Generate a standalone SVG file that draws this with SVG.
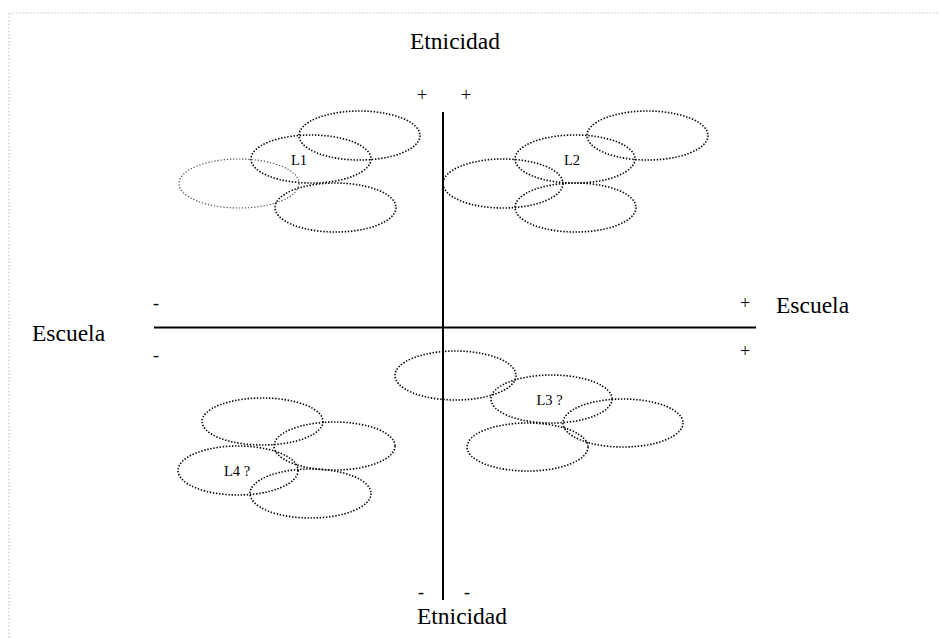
<svg xmlns="http://www.w3.org/2000/svg" width="939" height="638" viewBox="0 0 939 638">
<style>
.t{font-family:"Liberation Serif","Times New Roman",serif;fill:#000}
.big{font-size:23.5px}
.sm{font-size:14.5px}
.sg{font-size:18px}
.e{fill:none;stroke:#000;stroke-width:1.6;stroke-dasharray:1.4 1.7}
.eg{fill:none;stroke:#555;stroke-width:1.2;stroke-dasharray:1.3 1.8}
.ax{stroke:#000;stroke-width:2;fill:none}
</style>
<rect width="939" height="638" fill="#fff"/>
<path d="M9 13 H939 M9 13 V638" fill="none" stroke="#c8c8c8" stroke-width="1.2" stroke-dasharray="1.5 2"/>
<g id="axes">
<line class="ax" x1="443" y1="112" x2="443" y2="600"/>
<line class="ax" x1="154" y1="327.5" x2="756" y2="327.5"/>
</g>
<g id="labels">
<text class="t big" x="455" y="49" text-anchor="middle">Etnicidad</text>
<text class="t big" x="462" y="624" text-anchor="middle">Etnicidad</text>
<text class="t big" x="32" y="341">Escuela</text>
<text class="t big" x="776" y="313">Escuela</text>
<text class="t sg" x="422" y="101" text-anchor="middle">+</text>
<text class="t sg" x="466" y="101" text-anchor="middle">+</text>
<text class="t sg" x="745" y="309" text-anchor="middle">+</text>
<text class="t sg" x="745" y="357" text-anchor="middle">+</text>
<text class="t sg" x="156" y="309" text-anchor="middle">-</text>
<text class="t sg" x="156" y="361" text-anchor="middle">-</text>
<text class="t sg" x="421" y="598" text-anchor="middle">-</text>
<text class="t sg" x="467" y="598" text-anchor="middle">-</text>
</g>
<g id="L1">
<ellipse class="e" cx="359.5" cy="135.5" rx="60.5" ry="24.5"/>
<ellipse class="e" cx="311" cy="159" rx="60" ry="24"/>
<ellipse class="eg" cx="239" cy="183.5" rx="60" ry="24.5"/>
<ellipse class="e" cx="335.5" cy="207.5" rx="60.5" ry="24.5"/>
<text class="t sm" x="299" y="165" text-anchor="middle">L1</text>
</g>
<g id="L2">
<ellipse class="e" cx="647.5" cy="135.5" rx="60.5" ry="24.5"/>
<ellipse class="e" cx="575" cy="159" rx="60" ry="24"/>
<ellipse class="e" cx="503" cy="183.5" rx="60" ry="24.5"/>
<ellipse class="e" cx="575.5" cy="207.5" rx="60.5" ry="24.5"/>
<text class="t sm" x="572" y="165" text-anchor="middle">L2</text>
</g>
<g id="L3">
<ellipse class="e" cx="455.5" cy="375.5" rx="60.5" ry="24.5"/>
<ellipse class="e" cx="551.5" cy="399" rx="60.5" ry="24"/>
<ellipse class="e" cx="623" cy="423" rx="60" ry="24"/>
<ellipse class="e" cx="527.5" cy="447" rx="60.5" ry="24"/>
<text class="t sm" x="549.5" y="405" text-anchor="middle">L3 ?</text>
</g>
<g id="L4">
<ellipse class="e" cx="262.5" cy="421.5" rx="60.5" ry="23.5"/>
<ellipse class="e" cx="334.5" cy="446" rx="60.5" ry="24"/>
<ellipse class="e" cx="238" cy="470.5" rx="60" ry="24.5"/>
<ellipse class="e" cx="310.5" cy="493.5" rx="60.5" ry="24.5"/>
<text class="t sm" x="237" y="476" text-anchor="middle">L4 ?</text>
</g>
</svg>
